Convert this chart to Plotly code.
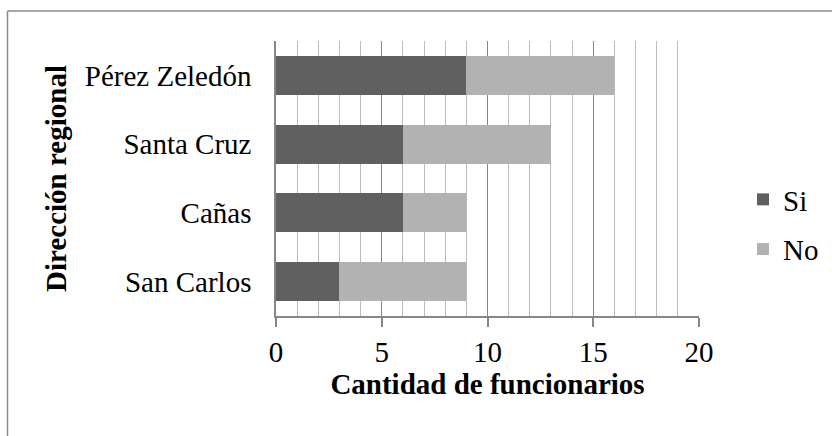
import plotly.graph_objects as go

categories = ["San Carlos", "Cañas", "Santa Cruz", "Pérez Zeledón"]
si_values = [3, 6, 6, 9]
no_values = [6, 3, 7, 7]
series_names = ["Si", "No"]
x_tick_values = [0, 5, 10, 15, 20]

FONT = "Liberation Serif, Times New Roman, serif"
FS = 29

fig = go.Figure()
fig.add_trace(go.Bar(y=categories, x=si_values, name=series_names[0], orientation="h",
                     marker=dict(color="#606060", line=dict(width=0)), legendgroup="a"))
fig.add_trace(go.Bar(y=categories, x=no_values, name=series_names[1], orientation="h",
                     marker=dict(color="#b2b2b2", line=dict(width=0)), legendgroup="b"))

L, R, T, B = 276, 699, 41, 316
W, H = 832, 436

def px_x(p):
    return (p - L) / (R - L)

def px_y(p):
    return (B - p) / (B - T)

fig.update_layout(
    width=W, height=H,
    margin=dict(l=L, r=W - R, t=T, b=H - B, pad=0),
    barmode="stack",
    bargap=0.433,
    plot_bgcolor="white",
    paper_bgcolor="white",
    font=dict(family=FONT, size=FS, color="black"),
    legend=dict(xref="container", yref="container", x=743 / W, y=1 - 174 / H,
                xanchor="left", yanchor="top",
                font=dict(family=FONT, size=FS), traceorder="grouped",
                tracegroupgap=9, bgcolor="rgba(0,0,0,0)"),
    xaxis=dict(range=[0, 20], tickvals=x_tick_values, showgrid=True,
               gridcolor="#868686", gridwidth=1,
               minor=dict(dtick=1, showgrid=True, gridcolor="#bababa", gridwidth=1),
               showline=True, linecolor="#868686", linewidth=1.5,
               ticks="outside", ticklen=9, tickcolor="#868686", tickwidth=1.5,
               zeroline=False, automargin=False,
               title=dict(text="Cantidad de funcionarios", standoff=6,
                          font=dict(family=FONT, size=FS, weight="bold"))),
    yaxis=dict(showgrid=False, showline=True, linecolor="#868686", linewidth=1.5,
               ticks="", ticklabelstandoff=17, automargin=False,
               title=dict(text="Dirección regional", standoff=10,
                          font=dict(family=FONT, size=FS, weight="bold"))),
    shapes=[
        dict(type="line", xref="paper", yref="paper", x0=px_x(7.5), x1=px_x(840),
             y0=px_y(11), y1=px_y(11), line=dict(color="#8a8a8a", width=1.5)),
        dict(type="line", xref="paper", yref="paper", x0=px_x(7.5), x1=px_x(7.5),
             y0=px_y(11), y1=px_y(445), line=dict(color="#8a8a8a", width=1.5)),
    ],
)

fig.write_html("out.html", config={"displayModeBar": False},
               post_script="document.body.style.margin='0';document.body.style.overflow='hidden';")
